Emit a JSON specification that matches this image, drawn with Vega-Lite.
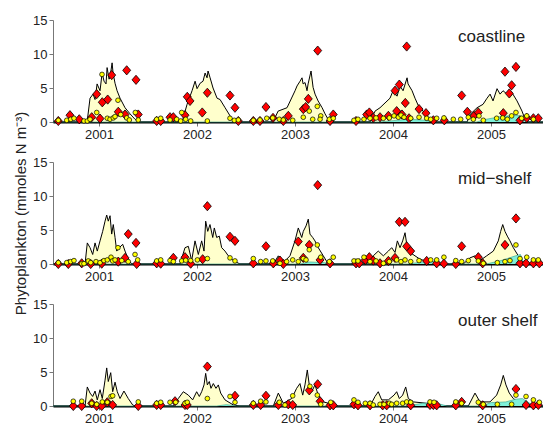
{
  "$schema": "https://vega.github.io/schema/vega-lite/v6.json",
  "background": "white",
  "padding": {"left": 13, "top": 14, "right": 0, "bottom": 2},
  "bounds": "flush",
  "spacing": 40,
  "config": {
    "font": "Liberation Sans",
    "view": {"stroke": null},
    "axis": {"grid": false, "labelFont": "Liberation Sans", "labelFontSize": 13, "labelColor": "#222222", "tickColor": "#777777", "domainColor": "#777777", "tickSize": 4, "labelPadding": 2, "labelOverlap": false}
  },
  "datasets": {
    "coast_model": [
      {"t":2000.53,"v":0},
      {"t":2000.878,"v":0},{"t":2000.908,"v":3.5},{"t":2000.939,"v":4.1},{"t":2000.959,"v":3.3},{"t":2000.98,"v":5.6},{"t":2001.01,"v":4.6},{"t":2001.031,"v":7.2},{"t":2001.051,"v":6.0},{"t":2001.071,"v":5.6},{"t":2001.082,"v":8.0},{"t":2001.102,"v":6.3},{"t":2001.112,"v":6.6},{"t":2001.133,"v":8.7},{"t":2001.143,"v":7.2},{"t":2001.163,"v":5.7},{"t":2001.184,"v":4.6},{"t":2001.214,"v":3.5},{"t":2001.265,"v":2.1},{"t":2001.316,"v":1.2},{"t":2001.367,"v":0.4},{"t":2001.398,"v":0},
      {"t":2001.847,"v":0},{"t":2001.898,"v":2.6},{"t":2001.949,"v":4.6},{"t":2001.98,"v":6.0},{"t":2002.0,"v":4.9},{"t":2002.031,"v":5.7},{"t":2002.061,"v":6.0},{"t":2002.082,"v":7.2},{"t":2002.102,"v":6.5},{"t":2002.112,"v":7.5},{"t":2002.133,"v":6.5},{"t":2002.163,"v":5.0},{"t":2002.204,"v":3.5},{"t":2002.235,"v":3.3},{"t":2002.286,"v":2.1},{"t":2002.337,"v":0.9},{"t":2002.367,"v":0.3},{"t":2002.408,"v":0},
      {"t":2002.775,"v":0},{"t":2002.827,"v":1.6},{"t":2002.918,"v":2.1},{"t":2003.0,"v":4.6},{"t":2003.02,"v":5.3},{"t":2003.051,"v":6.0},{"t":2003.071,"v":6.5},{"t":2003.082,"v":5.6},{"t":2003.102,"v":5.8},{"t":2003.122,"v":4.6},{"t":2003.133,"v":5.6},{"t":2003.163,"v":7.5},{"t":2003.184,"v":5.1},{"t":2003.204,"v":4.1},{"t":2003.235,"v":3.1},{"t":2003.276,"v":2.1},{"t":2003.306,"v":1.2},{"t":2003.337,"v":0.4},{"t":2003.357,"v":0},
      {"t":2003.765,"v":0},{"t":2003.816,"v":1.6},{"t":2003.867,"v":2.1},{"t":2003.918,"v":2.8},{"t":2003.969,"v":3.5},{"t":2004.0,"v":4.6},{"t":2004.041,"v":3.8},{"t":2004.071,"v":5.3},{"t":2004.102,"v":4.6},{"t":2004.143,"v":6.5},{"t":2004.153,"v":5.6},{"t":2004.194,"v":4.6},{"t":2004.224,"v":3.5},{"t":2004.255,"v":2.5},{"t":2004.306,"v":1.6},{"t":2004.357,"v":0.6},{"t":2004.408,"v":0},
      {"t":2004.755,"v":0},{"t":2004.786,"v":1.1},{"t":2004.857,"v":2.1},{"t":2004.918,"v":2.6},{"t":2004.959,"v":3.5},{"t":2004.99,"v":4.1},{"t":2005.02,"v":3.1},{"t":2005.061,"v":4.9},{"t":2005.092,"v":4.1},{"t":2005.122,"v":4.6},{"t":2005.163,"v":4.1},{"t":2005.214,"v":4.3},{"t":2005.265,"v":3.1},{"t":2005.316,"v":1.6},{"t":2005.347,"v":0.4},{"t":2005.367,"v":0},
      {"t":2005.53,"v":0}
    ],
    "coast_cyan": [
      {"t":2000.53,"v":0},{"t":2003.85,"v":0},{"t":2004.0,"v":0.2},{"t":2004.15,"v":0.4},{"t":2004.3,"v":0.3},{"t":2004.42,"v":0},
      {"t":2004.85,"v":0},{"t":2004.95,"v":0.4},{"t":2005.1,"v":0.8},{"t":2005.25,"v":1.0},{"t":2005.33,"v":0.8},{"t":2005.37,"v":0},{"t":2005.53,"v":0}
    ],
    "coast_red": [
      {"t":2000.584,"v":0.15},{"t":2000.703,"v":1.0},{"t":2000.798,"v":0.4},{"t":2000.925,"v":0.7},{"t":2000.976,"v":4.1},{"t":2001.01,"v":0.5},{"t":2001.033,"v":2.9},{"t":2001.088,"v":3.3},{"t":2001.129,"v":6.9},{"t":2001.196,"v":1.5},{"t":2001.282,"v":7.6},{"t":2001.377,"v":6.2},{"t":2001.265,"v":1.1},{"t":2001.4,"v":1.1},{"t":2001.588,"v":0.15},{"t":2001.629,"v":0.15},{"t":2001.724,"v":0.7},{"t":2001.758,"v":0.7},{"t":2001.877,"v":1.0},{"t":2001.9,"v":3.7},{"t":2001.928,"v":3.1},{"t":2002.053,"v":1.4},{"t":2002.105,"v":4.3},{"t":2002.336,"v":3.9},{"t":2002.387,"v":2.1},{"t":2002.421,"v":0.15},{"t":2002.574,"v":0.15},{"t":2002.642,"v":0.15},{"t":2002.703,"v":2.2},{"t":2002.775,"v":0.6},{"t":2002.88,"v":0.15},{"t":2002.931,"v":0.9},{"t":2003.084,"v":1.9},{"t":2003.108,"v":2.2},{"t":2003.135,"v":3.4},{"t":2003.231,"v":10.5},{"t":2003.357,"v":0.15},{"t":2003.39,"v":1.1},{"t":2003.622,"v":0.15},{"t":2003.731,"v":1.1},{"t":2003.758,"v":1.4},{"t":2003.798,"v":0.6},{"t":2003.867,"v":0.7},{"t":2003.952,"v":0.9},{"t":2004.02,"v":4.6},{"t":2004.037,"v":1.6},{"t":2004.064,"v":5.5},{"t":2004.091,"v":1.1},{"t":2004.125,"v":2.8},{"t":2004.139,"v":11.1},{"t":2004.163,"v":0.55},{"t":2004.265,"v":1.9},{"t":2004.336,"v":1.3},{"t":2004.411,"v":0.25},{"t":2004.523,"v":0.25},{"t":2004.7,"v":3.9},{"t":2004.758,"v":1.5},{"t":2004.826,"v":0.9},{"t":2004.87,"v":1.4},{"t":2005.125,"v":1.3},{"t":2005.142,"v":7.4},{"t":2005.186,"v":4.2},{"t":2005.21,"v":5.4},{"t":2005.254,"v":8.1},{"t":2005.295,"v":0.25},{"t":2005.364,"v":0.6},{"t":2005.432,"v":0.55},{"t":2005.482,"v":0.55}
    ],
    "coast_yellow": [
      {"t":2000.584,"v":0.25},{"t":2000.67,"v":0.25},{"t":2000.711,"v":0.4},{"t":2000.744,"v":0.55},{"t":2000.846,"v":0.15},{"t":2000.88,"v":0.15},{"t":2000.908,"v":0.4},{"t":2000.976,"v":1.4},{"t":2001.03,"v":7.0},{"t":2001.084,"v":0.55},{"t":2001.112,"v":0.4},{"t":2001.145,"v":0.6},{"t":2001.163,"v":0.8},{"t":2001.193,"v":3.2},{"t":2001.221,"v":1.1},{"t":2001.282,"v":0.6},{"t":2001.309,"v":0.3},{"t":2001.37,"v":1.4},{"t":2001.4,"v":0.3},{"t":2001.588,"v":0.4},{"t":2001.629,"v":0.55},{"t":2001.724,"v":0.3},{"t":2001.792,"v":0.4},{"t":2001.833,"v":0.15},{"t":2001.843,"v":1.4},{"t":2001.884,"v":0.4},{"t":2001.935,"v":0.15},{"t":2002.105,"v":0.15},{"t":2002.336,"v":0.55},{"t":2002.38,"v":0.25},{"t":2002.421,"v":0.3},{"t":2002.574,"v":0.25},{"t":2002.642,"v":0.3},{"t":2002.711,"v":0.55},{"t":2002.772,"v":0.6},{"t":2002.839,"v":0.4},{"t":2002.88,"v":0.3},{"t":2002.976,"v":0.25},{"t":2003.084,"v":0.7},{"t":2003.145,"v":1.6},{"t":2003.227,"v":2.3},{"t":2003.18,"v":0.4},{"t":2003.262,"v":0.9},{"t":2003.255,"v":0.4},{"t":2003.35,"v":0.4},{"t":2003.39,"v":0.55},{"t":2003.601,"v":0.25},{"t":2003.642,"v":0.4},{"t":2003.703,"v":0.4},{"t":2003.765,"v":0.55},{"t":2003.826,"v":0.6},{"t":2003.901,"v":0.55},{"t":2003.962,"v":0.6},{"t":2004.01,"v":0.9},{"t":2004.054,"v":0.7},{"t":2004.081,"v":1.0},{"t":2004.112,"v":0.7},{"t":2004.18,"v":0.55},{"t":2004.265,"v":0.7},{"t":2004.343,"v":0.55},{"t":2004.384,"v":0.4},{"t":2004.445,"v":0.55},{"t":2004.519,"v":0.6},{"t":2004.615,"v":0.4},{"t":2004.69,"v":0.4},{"t":2004.768,"v":0.7},{"t":2004.819,"v":0.4},{"t":2004.877,"v":0.9},{"t":2004.921,"v":0.25},{"t":2005.057,"v":0.55},{"t":2005.119,"v":0.6},{"t":2005.166,"v":0.4},{"t":2005.21,"v":0.9},{"t":2005.254,"v":1.4},{"t":2005.312,"v":0.55},{"t":2005.364,"v":0.9},{"t":2005.432,"v":0.4}
    ],
    "mid_model": [
      {"t":2000.53,"v":0},
      {"t":2000.857,"v":0},{"t":2000.88,"v":3.1},{"t":2000.908,"v":2.4},{"t":2000.935,"v":1.4},{"t":2000.959,"v":3.1},{"t":2000.982,"v":1.9},{"t":2001.01,"v":3.4},{"t":2001.037,"v":4.8},{"t":2001.061,"v":6.3},{"t":2001.078,"v":7.2},{"t":2001.094,"v":6.3},{"t":2001.112,"v":7.1},{"t":2001.129,"v":4.4},{"t":2001.145,"v":5.8},{"t":2001.163,"v":3.9},{"t":2001.18,"v":1.9},{"t":2001.207,"v":2.4},{"t":2001.241,"v":2.9},{"t":2001.265,"v":1.9},{"t":2001.298,"v":0.7},{"t":2001.333,"v":0},
      {"t":2001.826,"v":0},{"t":2001.877,"v":2.4},{"t":2001.911,"v":2.6},{"t":2001.945,"v":0.5},{"t":2001.979,"v":3.4},{"t":2002.013,"v":1.4},{"t":2002.047,"v":3.4},{"t":2002.071,"v":1.9},{"t":2002.088,"v":6.3},{"t":2002.109,"v":4.8},{"t":2002.132,"v":5.8},{"t":2002.16,"v":3.9},{"t":2002.176,"v":5.3},{"t":2002.2,"v":3.9},{"t":2002.227,"v":4.1},{"t":2002.251,"v":2.4},{"t":2002.285,"v":1.9},{"t":2002.319,"v":1.2},{"t":2002.37,"v":0.5},{"t":2002.438,"v":0},
      {"t":2002.778,"v":0},{"t":2002.829,"v":1.2},{"t":2002.88,"v":0.2},{"t":2002.948,"v":1.2},{"t":2002.999,"v":3.4},{"t":2003.033,"v":5.3},{"t":2003.068,"v":3.9},{"t":2003.084,"v":4.8},{"t":2003.112,"v":5.6},{"t":2003.135,"v":6.6},{"t":2003.152,"v":4.4},{"t":2003.18,"v":3.9},{"t":2003.203,"v":3.4},{"t":2003.237,"v":2.4},{"t":2003.288,"v":1.2},{"t":2003.339,"v":0},
      {"t":2003.731,"v":0},{"t":2003.798,"v":1.2},{"t":2003.849,"v":1.9},{"t":2003.901,"v":1.2},{"t":2003.952,"v":1.9},{"t":2003.986,"v":2.4},{"t":2004.02,"v":1.7},{"t":2004.044,"v":3.4},{"t":2004.071,"v":2.4},{"t":2004.098,"v":3.4},{"t":2004.122,"v":4.6},{"t":2004.145,"v":2.4},{"t":2004.173,"v":1.7},{"t":2004.224,"v":1.2},{"t":2004.275,"v":0.7},{"t":2004.343,"v":0.4},{"t":2004.445,"v":0.1},{"t":2004.47,"v":0},
      {"t":2004.717,"v":0},{"t":2004.785,"v":0.9},{"t":2004.836,"v":1.2},{"t":2004.887,"v":0.5},{"t":2004.955,"v":1.2},{"t":2005.023,"v":1.9},{"t":2005.074,"v":3.4},{"t":2005.098,"v":4.8},{"t":2005.119,"v":5.8},{"t":2005.142,"v":4.8},{"t":2005.166,"v":4.1},{"t":2005.193,"v":3.4},{"t":2005.227,"v":2.4},{"t":2005.278,"v":1.2},{"t":2005.329,"v":0.2},{"t":2005.35,"v":0},
      {"t":2005.53,"v":0}
    ],
    "mid_cyan": [
      {"t":2000.53,"v":0},{"t":2003.05,"v":0},{"t":2003.15,"v":0.3},{"t":2003.3,"v":0.2},{"t":2003.38,"v":0},
      {"t":2004.15,"v":0},{"t":2004.3,"v":0.3},{"t":2004.45,"v":0.4},{"t":2004.55,"v":0},
      {"t":2004.95,"v":0},{"t":2005.1,"v":0.5},{"t":2005.25,"v":1.2},{"t":2005.3,"v":1.4},{"t":2005.34,"v":0},{"t":2005.53,"v":0}
    ],
    "mid_red": [
      {"t":2000.584,"v":0},{"t":2000.686,"v":0},{"t":2000.823,"v":0.1},{"t":2000.915,"v":0},{"t":2001.027,"v":0.05},{"t":2001.196,"v":0.35},{"t":2001.265,"v":0.9},{"t":2001.298,"v":4.4},{"t":2001.377,"v":3.1},{"t":2001.384,"v":0},{"t":2001.588,"v":0.1},{"t":2001.629,"v":0.05},{"t":2001.758,"v":0.9},{"t":2001.877,"v":1.0},{"t":2001.935,"v":0.05},{"t":2002.057,"v":0.7},{"t":2002.105,"v":8.5},{"t":2002.336,"v":4.0},{"t":2002.387,"v":3.4},{"t":2002.574,"v":0.1},{"t":2002.703,"v":2.6},{"t":2002.778,"v":0.1},{"t":2002.846,"v":0.5},{"t":2002.88,"v":0},{"t":2003.033,"v":3.3},{"t":2003.084,"v":0.9},{"t":2003.145,"v":2.8},{"t":2003.231,"v":11.6},{"t":2003.255,"v":0.6},{"t":2003.357,"v":0.1},{"t":2003.622,"v":0.1},{"t":2003.655,"v":0.1},{"t":2003.717,"v":0.6},{"t":2003.758,"v":1.0},{"t":2003.798,"v":0.5},{"t":2003.867,"v":0.1},{"t":2003.952,"v":0.45},{"t":2004.02,"v":0.9},{"t":2004.064,"v":6.2},{"t":2004.122,"v":6.2},{"t":2004.139,"v":2.6},{"t":2004.18,"v":1.9},{"t":2004.343,"v":0.45},{"t":2004.445,"v":0.1},{"t":2004.519,"v":0.05},{"t":2004.64,"v":0},{"t":2004.7,"v":2.6},{"t":2004.87,"v":1.0},{"t":2004.914,"v":0.1},{"t":2005.142,"v":2.8},{"t":2005.254,"v":6.7},{"t":2005.295,"v":0.1},{"t":2005.357,"v":0.1},{"t":2005.432,"v":0.1},{"t":2005.493,"v":0.1}
    ],
    "mid_yellow": [
      {"t":2000.584,"v":0.2},{"t":2000.67,"v":0.2},{"t":2000.711,"v":0.35},{"t":2000.744,"v":0.5},{"t":2000.823,"v":0.05},{"t":2000.846,"v":0.05},{"t":2000.89,"v":0.45},{"t":2000.915,"v":0.2},{"t":2000.969,"v":0.35},{"t":2001.01,"v":0.2},{"t":2001.05,"v":0.5},{"t":2001.084,"v":0.6},{"t":2001.122,"v":1.0},{"t":2001.139,"v":0.45},{"t":2001.163,"v":0.6},{"t":2001.193,"v":2.4},{"t":2001.231,"v":0.5},{"t":2001.298,"v":0.35},{"t":2001.367,"v":1.4},{"t":2001.394,"v":0.6},{"t":2001.588,"v":0.45},{"t":2001.629,"v":0.6},{"t":2001.724,"v":0.5},{"t":2001.758,"v":0.35},{"t":2001.843,"v":0.45},{"t":2001.884,"v":0.55},{"t":2001.935,"v":0.5},{"t":2002.003,"v":0.6},{"t":2002.105,"v":0.8},{"t":2002.336,"v":0.9},{"t":2002.387,"v":0.45},{"t":2002.574,"v":0.8},{"t":2002.649,"v":0.35},{"t":2002.703,"v":0.45},{"t":2002.772,"v":0.45},{"t":2002.846,"v":0.1},{"t":2002.914,"v":0.35},{"t":2002.976,"v":0.6},{"t":2003.033,"v":0.35},{"t":2003.084,"v":0.8},{"t":2003.112,"v":0.6},{"t":2003.145,"v":2.1},{"t":2003.227,"v":2.8},{"t":2003.262,"v":1.0},{"t":2003.35,"v":0.35},{"t":2003.39,"v":1.0},{"t":2003.601,"v":0.45},{"t":2003.642,"v":0.45},{"t":2003.703,"v":1.0},{"t":2003.765,"v":0.35},{"t":2003.826,"v":0.45},{"t":2003.901,"v":0.1},{"t":2003.962,"v":0.35},{"t":2004.037,"v":0.6},{"t":2004.081,"v":0.35},{"t":2004.122,"v":0.6},{"t":2004.18,"v":0.35},{"t":2004.265,"v":0.5},{"t":2004.384,"v":0.6},{"t":2004.445,"v":0.6},{"t":2004.519,"v":1.0},{"t":2004.64,"v":0.5},{"t":2004.7,"v":0.35},{"t":2004.768,"v":0.5},{"t":2004.87,"v":0.45},{"t":2004.921,"v":0.1},{"t":2005.064,"v":0.2},{"t":2005.142,"v":0.35},{"t":2005.193,"v":0.5},{"t":2005.254,"v":2.8},{"t":2005.295,"v":0.8},{"t":2005.364,"v":1.0},{"t":2005.432,"v":0.6},{"t":2005.482,"v":0.6}
    ],
    "outer_model": [
      {"t":2000.53,"v":0},
      {"t":2000.857,"v":0},{"t":2000.88,"v":2.8},{"t":2000.908,"v":1.9},{"t":2000.935,"v":1.4},{"t":2000.959,"v":2.2},{"t":2000.982,"v":0.9},{"t":2001.01,"v":2.4},{"t":2001.033,"v":1.1},{"t":2001.061,"v":3.8},{"t":2001.078,"v":5.6},{"t":2001.094,"v":3.6},{"t":2001.119,"v":4.9},{"t":2001.139,"v":2.1},{"t":2001.163,"v":3.5},{"t":2001.186,"v":2.1},{"t":2001.214,"v":1.1},{"t":2001.254,"v":2.2},{"t":2001.298,"v":1.1},{"t":2001.343,"v":0.15},{"t":2001.367,"v":0},
      {"t":2001.758,"v":0},{"t":2001.809,"v":1.1},{"t":2001.86,"v":2.1},{"t":2001.911,"v":1.6},{"t":2001.955,"v":0.9},{"t":2001.996,"v":2.1},{"t":2002.023,"v":1.4},{"t":2002.047,"v":2.1},{"t":2002.071,"v":3.1},{"t":2002.088,"v":4.8},{"t":2002.105,"v":3.1},{"t":2002.125,"v":3.6},{"t":2002.142,"v":2.6},{"t":2002.166,"v":3.3},{"t":2002.193,"v":2.6},{"t":2002.217,"v":3.1},{"t":2002.241,"v":1.9},{"t":2002.285,"v":0.9},{"t":2002.37,"v":0.15},{"t":2002.438,"v":0},
      {"t":2002.778,"v":0},{"t":2002.829,"v":1.9},{"t":2002.88,"v":0.4},{"t":2002.966,"v":1.1},{"t":2003.016,"v":2.6},{"t":2003.05,"v":3.3},{"t":2003.078,"v":1.6},{"t":2003.101,"v":3.1},{"t":2003.125,"v":5.3},{"t":2003.145,"v":3.1},{"t":2003.17,"v":2.1},{"t":2003.203,"v":3.1},{"t":2003.237,"v":1.6},{"t":2003.288,"v":0.6},{"t":2003.425,"v":0.1},{"t":2003.44,"v":0},
      {"t":2003.765,"v":0},{"t":2003.816,"v":1.4},{"t":2003.849,"v":2.1},{"t":2003.884,"v":0.9},{"t":2003.952,"v":0.9},{"t":2004.01,"v":1.6},{"t":2004.037,"v":2.1},{"t":2004.064,"v":1.1},{"t":2004.098,"v":1.6},{"t":2004.129,"v":2.8},{"t":2004.156,"v":1.1},{"t":2004.207,"v":0.6},{"t":2004.343,"v":0.4},{"t":2004.445,"v":0.1},{"t":2004.47,"v":0},
      {"t":2004.768,"v":0},{"t":2004.836,"v":1.9},{"t":2004.887,"v":0.6},{"t":2004.989,"v":0.6},{"t":2005.057,"v":1.6},{"t":2005.098,"v":3.1},{"t":2005.125,"v":4.5},{"t":2005.152,"v":3.1},{"t":2005.186,"v":1.9},{"t":2005.227,"v":1.1},{"t":2005.278,"v":0.6},{"t":2005.329,"v":0.1},{"t":2005.35,"v":0},
      {"t":2005.53,"v":0}
    ],
    "outer_cyan": [
      {"t":2000.53,"v":0},{"t":2002.2,"v":0},{"t":2002.3,"v":0.2},{"t":2002.4,"v":0},
      {"t":2004.15,"v":0},{"t":2004.3,"v":0.4},{"t":2004.45,"v":0.4},{"t":2004.55,"v":0},
      {"t":2004.9,"v":0},{"t":2005.0,"v":0.5},{"t":2005.15,"v":0.6},{"t":2005.25,"v":1.0},{"t":2005.32,"v":1.1},{"t":2005.38,"v":0.5},{"t":2005.45,"v":0},{"t":2005.53,"v":0}
    ],
    "outer_red": [
      {"t":2000.737,"v":0},{"t":2000.823,"v":0},{"t":2000.925,"v":0.4},{"t":2000.976,"v":0},{"t":2001.027,"v":0},{"t":2001.084,"v":0.55},{"t":2001.139,"v":0.15},{"t":2001.4,"v":0},{"t":2001.588,"v":0.15},{"t":2001.629,"v":0.15},{"t":2001.775,"v":0.7},{"t":2001.877,"v":0.15},{"t":2001.9,"v":0.15},{"t":2002.105,"v":5.8},{"t":2002.387,"v":1.5},{"t":2002.574,"v":0.15},{"t":2002.649,"v":0.15},{"t":2002.703,"v":1.5},{"t":2002.829,"v":0.15},{"t":2002.931,"v":0.25},{"t":2002.976,"v":0.15},{"t":2003.145,"v":2.3},{"t":2003.231,"v":3.2},{"t":2003.255,"v":0.7},{"t":2003.357,"v":0.1},{"t":2003.39,"v":0.1},{"t":2003.601,"v":0.25},{"t":2003.642,"v":0.1},{"t":2003.765,"v":0.1},{"t":2003.894,"v":0.1},{"t":2003.935,"v":0.1},{"t":2004.18,"v":0.1},{"t":2004.377,"v":0.15},{"t":2004.411,"v":0.15},{"t":2004.445,"v":0.1},{"t":2004.64,"v":0.1},{"t":2004.7,"v":0.6},{"t":2004.914,"v":0.1},{"t":2005.254,"v":2.5},{"t":2005.357,"v":0.15},{"t":2005.432,"v":0.1},{"t":2005.482,"v":0.15}
    ],
    "outer_yellow": [
      {"t":2000.737,"v":0.7},{"t":2000.823,"v":0.7},{"t":2000.925,"v":0.4},{"t":2000.976,"v":0.25},{"t":2001.033,"v":0.6},{"t":2001.084,"v":0.55},{"t":2001.122,"v":1.4},{"t":2001.139,"v":1.5},{"t":2001.4,"v":0.6},{"t":2001.588,"v":0.4},{"t":2001.629,"v":0.55},{"t":2001.724,"v":0.55},{"t":2001.782,"v":0.55},{"t":2001.877,"v":0.4},{"t":2001.9,"v":0.55},{"t":2002.105,"v":1.1},{"t":2002.336,"v":1.4},{"t":2002.387,"v":0.55},{"t":2002.574,"v":0.4},{"t":2002.649,"v":0.7},{"t":2002.703,"v":0.6},{"t":2002.839,"v":0.55},{"t":2002.897,"v":0.15},{"t":2002.976,"v":1.5},{"t":2003.152,"v":2.9},{"t":2003.227,"v":1.6},{"t":2003.262,"v":0.25},{"t":2003.364,"v":0.55},{"t":2003.601,"v":0.9},{"t":2003.642,"v":0.55},{"t":2003.717,"v":0.4},{"t":2003.765,"v":0.4},{"t":2003.798,"v":0.15},{"t":2003.867,"v":0.25},{"t":2003.908,"v":0.25},{"t":2003.962,"v":0.4},{"t":2003.986,"v":0.25},{"t":2004.037,"v":0.4},{"t":2004.098,"v":0.4},{"t":2004.139,"v":0.6},{"t":2004.18,"v":0.55},{"t":2004.377,"v":0.6},{"t":2004.418,"v":0.55},{"t":2004.64,"v":0.6},{"t":2004.7,"v":0.4},{"t":2004.87,"v":0.55},{"t":2004.921,"v":0.25},{"t":2005.064,"v":0.25},{"t":2005.21,"v":0.25},{"t":2005.254,"v":1.6},{"t":2005.357,"v":1.4},{"t":2005.432,"v":0.9},{"t":2005.493,"v":0.55}
    ]
  },
  "vconcat": [
    {
      "width": 490, "height": 102,
      "layer": [
        {"data": {"name": "coast_model"}, "mark": {"type": "area", "color": "#ffffcc", "opacity": 1, "line": {"color": "black", "strokeWidth": 1}},
         "encoding": {
           "x": {"field": "t", "type": "quantitative", "scale": {"domain": [2000.53, 2005.53], "nice": false, "zero": false}, "axis": {"values": [2001, 2002, 2003, 2004, 2005], "format": "d", "title": null, "domainColor": "black", "domainWidth": 2, "labelFlush": false}},
           "y": {"field": "v", "type": "quantitative", "scale": {"domain": [0, 15], "nice": false}, "axis": {"values": [0, 5, 10, 15], "tickCount": 4, "title": null}}}},
        {"data": {"name": "coast_cyan"}, "mark": {"type": "area", "color": "#7ff0d8", "opacity": 1, "line": {"color": "#2f9e8a", "strokeWidth": 0.6}},
         "encoding": {"x": {"field": "t", "type": "quantitative"}, "y": {"field": "v", "type": "quantitative"}}},
        {"data": {"name": "coast_red"}, "mark": {"type": "point", "shape": "M0,-1.1L0.95,0L0,1.1L-0.95,0Z", "filled": true, "fill": "#ff0000", "stroke": "black", "strokeWidth": 0.8, "size": 70, "opacity": 1},
         "encoding": {"x": {"field": "t", "type": "quantitative"}, "y": {"field": "v", "type": "quantitative"}}},
        {"data": {"name": "coast_yellow"}, "mark": {"type": "circle", "fill": "#ffff00", "stroke": "black", "strokeWidth": 0.7, "size": 22, "opacity": 1},
         "encoding": {"x": {"field": "t", "type": "quantitative"}, "y": {"field": "v", "type": "quantitative"}}},
        {"data": {"values": [{}]}, "mark": {"type": "text", "text": "coastline", "align": "left", "baseline": "alphabetic", "fontSize": 17, "color": "#222222"},
         "encoding": {"x": {"datum": 2004.663, "type": "quantitative"}, "y": {"datum": 11.8, "type": "quantitative"}}}
      ]
    },
    {
      "width": 490, "height": 102,
      "layer": [
        {"data": {"name": "mid_model"}, "mark": {"type": "area", "color": "#ffffcc", "opacity": 1, "line": {"color": "black", "strokeWidth": 1}},
         "encoding": {
           "x": {"field": "t", "type": "quantitative", "scale": {"domain": [2000.53, 2005.53], "nice": false, "zero": false}, "axis": {"values": [2001, 2002, 2003, 2004, 2005], "format": "d", "title": null, "domainColor": "black", "domainWidth": 2, "labelFlush": false}},
           "y": {"field": "v", "type": "quantitative", "scale": {"domain": [0, 15], "nice": false}, "axis": {"values": [0, 5, 10, 15], "tickCount": 4, "title": "Phytoplankton (mmoles N m⁻³)", "titleFontSize": 15, "titleFontWeight": "normal", "titleColor": "#222222", "titlePadding": 4}}}},
        {"data": {"name": "mid_cyan"}, "mark": {"type": "area", "color": "#7ff0d8", "opacity": 1, "line": {"color": "#2f9e8a", "strokeWidth": 0.6}},
         "encoding": {"x": {"field": "t", "type": "quantitative"}, "y": {"field": "v", "type": "quantitative"}}},
        {"data": {"name": "mid_red"}, "mark": {"type": "point", "shape": "M0,-1.1L0.95,0L0,1.1L-0.95,0Z", "filled": true, "fill": "#ff0000", "stroke": "black", "strokeWidth": 0.8, "size": 70, "opacity": 1},
         "encoding": {"x": {"field": "t", "type": "quantitative"}, "y": {"field": "v", "type": "quantitative"}}},
        {"data": {"name": "mid_yellow"}, "mark": {"type": "circle", "fill": "#ffff00", "stroke": "black", "strokeWidth": 0.7, "size": 22, "opacity": 1},
         "encoding": {"x": {"field": "t", "type": "quantitative"}, "y": {"field": "v", "type": "quantitative"}}},
        {"data": {"values": [{}]}, "mark": {"type": "text", "text": "mid−shelf", "align": "left", "baseline": "alphabetic", "fontSize": 17, "color": "#222222"},
         "encoding": {"x": {"datum": 2004.663, "type": "quantitative"}, "y": {"datum": 11.8, "type": "quantitative"}}}
      ]
    },
    {
      "width": 490, "height": 102,
      "layer": [
        {"data": {"name": "outer_model"}, "mark": {"type": "area", "color": "#ffffcc", "opacity": 1, "line": {"color": "black", "strokeWidth": 1}},
         "encoding": {
           "x": {"field": "t", "type": "quantitative", "scale": {"domain": [2000.53, 2005.53], "nice": false, "zero": false}, "axis": {"values": [2001, 2002, 2003, 2004, 2005], "format": "d", "title": null, "domainColor": "black", "domainWidth": 2, "labelFlush": false}},
           "y": {"field": "v", "type": "quantitative", "scale": {"domain": [0, 15], "nice": false}, "axis": {"values": [0, 5, 10, 15], "tickCount": 4, "title": null}}}},
        {"data": {"name": "outer_cyan"}, "mark": {"type": "area", "color": "#7ff0d8", "opacity": 1, "line": {"color": "#2f9e8a", "strokeWidth": 0.6}},
         "encoding": {"x": {"field": "t", "type": "quantitative"}, "y": {"field": "v", "type": "quantitative"}}},
        {"data": {"name": "outer_red"}, "mark": {"type": "point", "shape": "M0,-1.1L0.95,0L0,1.1L-0.95,0Z", "filled": true, "fill": "#ff0000", "stroke": "black", "strokeWidth": 0.8, "size": 70, "opacity": 1},
         "encoding": {"x": {"field": "t", "type": "quantitative"}, "y": {"field": "v", "type": "quantitative"}}},
        {"data": {"name": "outer_yellow"}, "mark": {"type": "circle", "fill": "#ffff00", "stroke": "black", "strokeWidth": 0.7, "size": 22, "opacity": 1},
         "encoding": {"x": {"field": "t", "type": "quantitative"}, "y": {"field": "v", "type": "quantitative"}}},
        {"data": {"values": [{}]}, "mark": {"type": "text", "text": "outer shelf", "align": "left", "baseline": "alphabetic", "fontSize": 17, "color": "#222222"},
         "encoding": {"x": {"datum": 2004.663, "type": "quantitative"}, "y": {"datum": 11.8, "type": "quantitative"}}}
      ]
    }
  ]
}
